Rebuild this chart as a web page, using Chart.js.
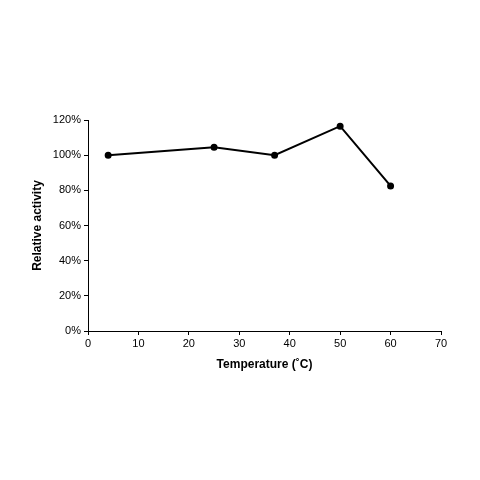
<!DOCTYPE html>
<html>
<head>
<script src="https://cdn.jsdelivr.net/npm/chart.js@4"></script>
<style>
  body { margin: 0; background: #fff; }
  #wrap { width: 480px; height: 480px; }
</style>
</head>
<body>
<div id="wrap"><canvas id="chart" width="480" height="480"></canvas></div>
<script>
// Values
const temperatures = [4, 25, 37, 50, 60];
const activity = [100, 104.5, 100, 116.5, 82.5];
const xTicks = [0, 10, 20, 30, 40, 50, 60, 70];
const yTicks = [0, 20, 40, 60, 80, 100, 120];

const font = { family: 'Liberation Sans, Arial, sans-serif', size: 11 };

new Chart(document.getElementById('chart'), {
    type: 'scatter',
    data: {
        datasets: [{
            data: temperatures.map((t, i) => ({ x: t, y: activity[i] })),
            showLine: true,
            borderColor: '#000',
            backgroundColor: '#000',
            borderWidth: 2,
            pointRadius: 2.5,
            tension: 0,
            clip: false
        }]
    },
    options: {
        responsive: false,
        animation: false,
        layout: { padding: { left: 26, right: 39, top: 120, bottom: 104 } },
        plugins: { legend: { display: false }, tooltip: { enabled: false } },
        scales: {
            x: {
                type: 'linear', min: 0, max: 70,
                afterBuildTicks: s => { s.ticks = xTicks.map(v => ({ value: v })); },
                afterFit: s => { s.height = 45; },
                grid: { drawOnChartArea: false, color: '#000', tickLength: 4 },
                border: { color: '#000', width: 1 },
                ticks: { color: '#000', font, padding: 2 },
                title: { display: true, text: 'Temperature (˚C)', color: '#000',
                         font: { ...font, size: 12, weight: 'bold' }, padding: { top: 0 } }
            },
            y: {
                min: 0, max: 120,
                afterBuildTicks: s => { s.ticks = yTicks.map(v => ({ value: v })); },
                afterFit: s => { s.width = 62; },
                grid: { drawOnChartArea: false, color: '#000', tickLength: 4 },
                border: { color: '#000', width: 1 },
                ticks: { color: '#000', font, padding: 3, callback: v => v + '%' },
                title: { display: true, text: 'Relative activity', color: '#000',
                         font: { ...font, size: 12, weight: 'bold' }, padding: { bottom: 0 } }
            }
        }
    }
});
</script>
</body>
</html>
